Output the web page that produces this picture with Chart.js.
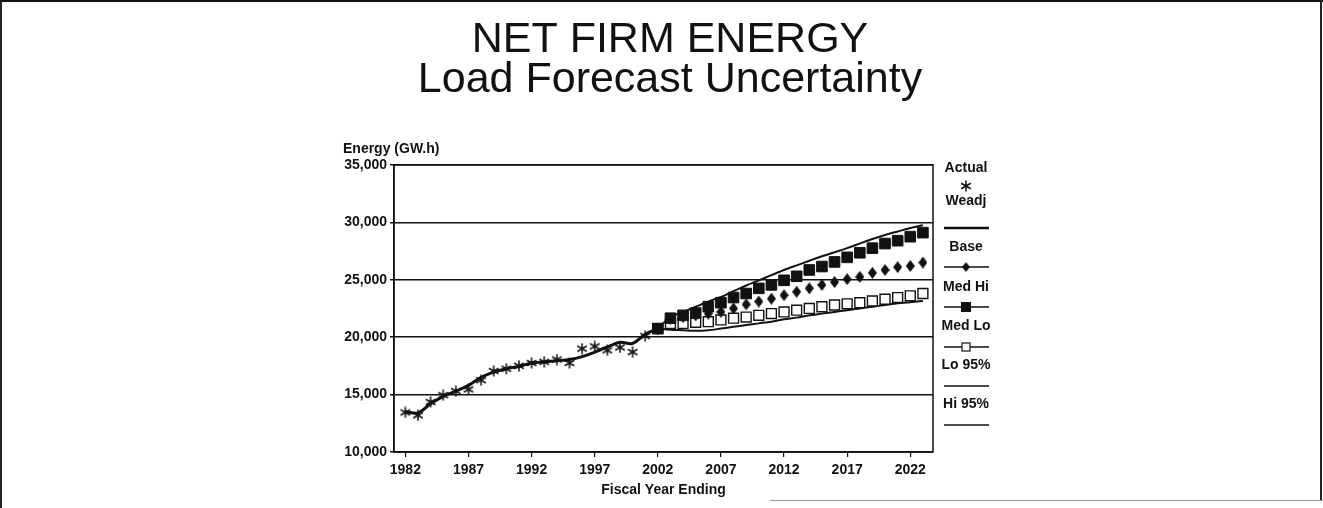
<!DOCTYPE html>
<html>
<head>
<meta charset="utf-8">
<title>Net Firm Energy</title>
<script src="https://cdn.jsdelivr.net/npm/chart.js@4.4.1/dist/chart.umd.min.js"></script>
<style>
  html, body { margin: 0; padding: 0; background: #fff; }
  #marco { position: relative; width: 1323px; height: 508px; }
  #borde {
    position: absolute; left: 0; top: 0; width: 1323px; height: 508px;
    box-sizing: border-box; border-top: 2px solid #111; border-left: 2px solid #222;
    pointer-events: none;
  }
  #bordeDer {
    position: absolute; left: 1320px; top: 0; width: 2px; height: 500px; background: #222;
    pointer-events: none;
  }
  #bordeInf {
    position: absolute; left: 770px; top: 500px; width: 553px; height: 1px; background: #999;
    pointer-events: none;
  }
  canvas { display: block; }
</style>
</head>
<body>
<div id="marco">
  <canvas id="grafico" width="1323" height="508"></canvas>
  <div id="borde"></div>
  <div id="bordeDer"></div>
  <div id="bordeInf"></div>
</div>
<script>
/* ============================================
   NET FIRM ENERGY - Load Forecast Uncertainty
   ============================================ */

// Historia (años fiscales)
const ANIOS_HIST = [1982, 1983, 1984, 1985, 1986, 1987, 1988, 1989, 1990, 1991, 1992,
                    1993, 1994, 1995, 1996, 1997, 1998, 1999, 2000, 2001, 2002];
const ACTUAL = [13450, 13200, 14350, 14950, 15300, 15450, 16250, 17050, 17250, 17500, 17750,
                17850, 18050, 17750, 19000, 19200, 18850, 19100, 18700, 20100, 20750];
const WEADJ  = [13500, 13400, 14200, 14850, 15300, 15800, 16500, 16950, 17250, 17450, 17750,
                17850, 17950, 18050, 18300, 18700, 19150, 19550, 19450, 20250, 20750];

// Pronóstico
const ANIOS_PRON = [2002, 2003, 2004, 2005, 2006, 2007, 2008, 2009, 2010, 2011, 2012,
                    2013, 2014, 2015, 2016, 2017, 2018, 2019, 2020, 2021, 2022, 2023];
const BASE   = [20750, 21600, 21750, 21900, 22050, 22200, 22500, 22850, 23100, 23350, 23650,
                23950, 24250, 24550, 24800, 25050, 25250, 25600, 25850, 26100, 26200, 26500];
const MED_HI = [20750, 21650, 21900, 22100, 22650, 23000, 23450, 23800, 24250, 24550, 24950,
                25300, 25850, 26150, 26550, 26950, 27350, 27750, 28150, 28400, 28750, 29100];
const MED_LO = [20750, 21200, 21200, 21300, 21350, 21500, 21650, 21750, 21900, 22050, 22200,
                22350, 22500, 22650, 22800, 22900, 23000, 23150, 23300, 23450, 23600, 23800];
const HI_95  = [20750, 21750, 22200, 22650, 23100, 23500, 24000, 24500, 24950, 25400, 25850,
                26250, 26650, 27050, 27400, 27750, 28150, 28550, 28900, 29200, 29500, 29750];
const LO_95  = [20750, 20650, 20600, 20550, 20600, 20750, 20900, 21050, 21200, 21350, 21550,
                21700, 21900, 22050, 22200, 22350, 22500, 22650, 22800, 22950, 23050, 23150];

// Ejes
const TICKS_X = [1982, 1987, 1992, 1997, 2002, 2007, 2012, 2017, 2022];
const TICKS_Y = [10000, 15000, 20000, 25000, 30000, 35000];

const FUENTE = "'Liberation Sans', Arial, sans-serif";
const NEGRO = '#111';

/**
 * Marcadores dibujados en un canvas chico
 */
function crearAsterisco(tam) {
  const c = document.createElement('canvas');
  c.width = tam; c.height = tam;
  const ctx = c.getContext('2d');
  ctx.strokeStyle = NEGRO;
  ctx.lineWidth = 1.5;
  const r = tam / 2 - 0.5;
  ctx.beginPath();
  for (let i = 0; i < 3; i++) {
    const a = Math.PI / 2 + i * Math.PI / 3;
    ctx.moveTo(tam / 2 + r * Math.cos(a), tam / 2 + r * Math.sin(a));
    ctx.lineTo(tam / 2 - r * Math.cos(a), tam / 2 - r * Math.sin(a));
  }
  ctx.stroke();
  return c;
}

function crearRombo(w, h) {
  const c = document.createElement('canvas');
  c.width = w; c.height = h;
  const ctx = c.getContext('2d');
  ctx.fillStyle = NEGRO;
  ctx.beginPath();
  ctx.moveTo(w / 2, 0);
  ctx.lineTo(w, h / 2);
  ctx.lineTo(w / 2, h);
  ctx.lineTo(0, h / 2);
  ctx.closePath();
  ctx.fill();
  return c;
}

const asterisco = crearAsterisco(12);
const rombo = crearRombo(9, 12);

const pares = (anios, valores) => anios.map((a, i) => ({ x: a, y: valores[i] }));

/**
 * Marco del área de datos
 */
const marcoArea = {
  id: 'marcoArea',
  beforeDatasetsDraw(chart) {
    const { ctx, chartArea: a } = chart;
    ctx.save();
    ctx.strokeStyle = NEGRO;
    ctx.lineWidth = 1.5;
    ctx.strokeRect(a.left, a.top, a.right - a.left, a.bottom - a.top);
    ctx.restore();
  },
};

/**
 * Título del eje Y (horizontal) y leyenda lateral
 */
const textosExtra = {
  id: 'textosExtra',
  afterDraw(chart) {
    const ctx = chart.ctx;
    ctx.save();
    ctx.fillStyle = NEGRO;
    ctx.strokeStyle = NEGRO;
    ctx.font = `bold 14px ${FUENTE}`;
    ctx.textBaseline = 'middle';
    ctx.textAlign = 'left';
    ctx.fillText('Energy (GW.h)', 343, 149);

    // Leyenda
    const cx = 966, x0 = 944, x1 = 989;
    ctx.textAlign = 'center';
    const linea = (y, ancho) => {
      ctx.lineWidth = ancho;
      ctx.beginPath(); ctx.moveTo(x0, y); ctx.lineTo(x1, y); ctx.stroke();
    };
    ctx.fillText('Actual', cx, 168);
    ctx.drawImage(asterisco, cx - asterisco.width / 2, 186 - asterisco.height / 2);
    ctx.fillText('Weadj', cx, 201);
    linea(228, 2.5);
    ctx.fillText('Base', cx, 247);
    linea(267, 1.5);
    ctx.drawImage(rombo, cx - 4, 267 - 5, 8, 10);
    ctx.fillText('Med Hi', cx, 287);
    linea(307, 1.5);
    ctx.fillRect(cx - 5, 307 - 5, 10, 10);
    ctx.fillText('Med Lo', cx, 326);
    linea(347, 1.5);
    ctx.fillStyle = '#fff';
    ctx.fillRect(cx - 4, 347 - 4, 8, 8);
    ctx.lineWidth = 1.2;
    ctx.strokeRect(cx - 4, 347 - 4, 8, 8);
    ctx.fillStyle = NEGRO;
    ctx.fillText('Lo 95%', cx, 365);
    linea(386, 1.5);
    ctx.fillText('Hi 95%', cx, 404);
    linea(425, 1.5);
    ctx.restore();
  },
};

const ctx = document.getElementById('grafico').getContext('2d');

new Chart(ctx, {
  type: 'line',
  data: {
    datasets: [
      {
        label: 'Actual',
        data: pares(ANIOS_HIST, ACTUAL),
        showLine: false,
        pointStyle: asterisco,
        pointRadius: 6,
        order: 0,
      },
      {
        label: 'Weadj',
        data: pares(ANIOS_HIST, WEADJ),
        borderColor: NEGRO,
        borderWidth: 3,
        tension: 0.35,
        pointRadius: 0,
        order: 1,
      },
      {
        label: 'Med Hi',
        data: pares(ANIOS_PRON, MED_HI),
        showLine: false,
        pointStyle: 'rect',
        pointRadius: 7.5,
        backgroundColor: NEGRO,
        borderColor: NEGRO,
        borderWidth: 1,
        order: 2,
      },
      {
        label: 'Base',
        data: pares(ANIOS_PRON, BASE),
        showLine: false,
        pointStyle: rombo,
        pointRadius: 6,
        order: 3,
      },
      {
        label: 'Med Lo',
        data: pares(ANIOS_PRON, MED_LO),
        showLine: false,
        pointStyle: 'rect',
        pointRadius: 7,
        backgroundColor: '#fff',
        borderColor: NEGRO,
        borderWidth: 1.4,
        order: 4,
      },
      {
        label: 'Hi 95%',
        data: pares(ANIOS_PRON, HI_95),
        borderColor: NEGRO,
        borderWidth: 2,
        tension: 0.3,
        pointRadius: 0,
        order: 5,
      },
      {
        label: 'Lo 95%',
        data: pares(ANIOS_PRON, LO_95),
        borderColor: NEGRO,
        borderWidth: 2,
        tension: 0.3,
        pointRadius: 0,
        order: 6,
      },
    ],
  },
  options: {
    responsive: false,
    animation: false,
    events: [],
    layout: { padding: { left: 17, right: 0, top: 0, bottom: 0 } },
    plugins: {
      legend: { display: false },
      tooltip: { enabled: false },
      title: {
        display: true,
        text: 'NET FIRM ENERGY',
        color: NEGRO,
        font: { family: FUENTE, size: 43, weight: 'normal', lineHeight: 0.9 },
        padding: { top: 20.6, bottom: 0 },
      },
      subtitle: {
        display: true,
        text: 'Load Forecast Uncertainty',
        color: NEGRO,
        font: { family: FUENTE, size: 43, weight: 'normal', lineHeight: 0.9 },
        padding: { top: 1.3, bottom: 65.6 },
      },
    },
    scales: {
      x: {
        type: 'linear',
        min: 1981.1,
        max: 2023.8,
        afterBuildTicks: (escala) => { escala.ticks = TICKS_X.map(v => ({ value: v })); },
        afterFit: (escala) => { escala.height = 56; },
        grid: { display: true, drawOnChartArea: false, drawTicks: true, tickLength: 5, color: NEGRO, lineWidth: 1.2 },
        border: { display: true, color: NEGRO, width: 1.5 },
        ticks: {
          color: NEGRO,
          padding: 5,
          maxRotation: 0,
          autoSkip: false,
          font: { family: FUENTE, size: 14, weight: 'bold' },
          callback: (v) => String(v),
        },
        title: {
          display: true,
          text: 'Fiscal Year Ending',
          color: NEGRO,
          font: { family: FUENTE, size: 14, weight: 'bold' },
          padding: { top: 0, bottom: 9 },
        },
      },
      y: {
        min: 10000,
        max: 35000,
        afterBuildTicks: (escala) => { escala.ticks = TICKS_Y.map(v => ({ value: v })); },
        afterFit: (escala) => { escala.width = 394 - 17; },
        grid: { color: NEGRO, lineWidth: 1.5, tickLength: 4 },
        border: { display: true, color: NEGRO, width: 1.5 },
        ticks: {
          color: NEGRO,
          padding: 3,
          font: { family: FUENTE, size: 14, weight: 'bold' },
          callback: (v) => v.toLocaleString('en-US'),
        },
      },
      derecha: {
        type: 'linear',
        position: 'right',
        display: true,
        afterFit: (escala) => { escala.width = 1323 - 933; },
        grid: { display: false },
        border: { display: false },
        ticks: { display: false },
      },
    },
  },
  plugins: [marcoArea, textosExtra],
});
</script>
</body>
</html>
